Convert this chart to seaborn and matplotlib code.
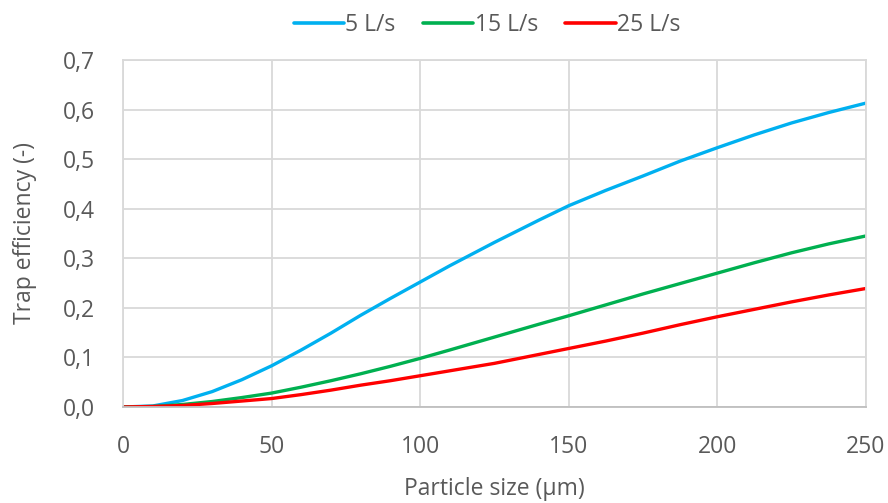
import matplotlib
matplotlib.use("Agg")
import matplotlib.pyplot as plt
from matplotlib.ticker import FuncFormatter, MultipleLocator
import pandas as pd
import seaborn as sns

# Particle size (µm) and trap efficiency for three flow rates
particle_size = [0, 10, 20, 30, 40, 50, 60, 70, 80, 90, 100, 110, 125, 140, 150,
                 162.5, 175, 187.5, 200, 212.5, 225, 237.5, 250]
eff_5 = [0, 0.002, 0.013, 0.031, 0.055, 0.083, 0.115, 0.149, 0.185, 0.219, 0.252,
         0.285, 0.332, 0.377, 0.406, 0.437, 0.466, 0.496, 0.523, 0.549, 0.573, 0.594, 0.613]
eff_15 = [0, 0.001, 0.005, 0.011, 0.019, 0.028, 0.040, 0.053, 0.067, 0.082, 0.098,
          0.115, 0.141, 0.167, 0.184, 0.206, 0.228, 0.249, 0.270, 0.291, 0.311, 0.329, 0.345]
eff_25 = [0, 0.001, 0.003, 0.007, 0.012, 0.017, 0.025, 0.034, 0.044, 0.053, 0.063,
          0.073, 0.088, 0.106, 0.118, 0.133, 0.149, 0.166, 0.182, 0.197, 0.212, 0.226, 0.239]
series_names = ["5 L/s", "15 L/s", "25 L/s"]
series_colors = ["#00b0f0", "#00b050", "#ff0000"]

frames = []
for name, vals in zip(series_names, [eff_5, eff_15, eff_25]):
    frames.append(pd.DataFrame({"size": particle_size, "eff": vals, "flow": name}))
df = pd.concat(frames, ignore_index=True)

sns.set_theme(style="white")
plt.rcParams["font.family"] = ["Open Sans", "DejaVu Sans"]

text_color = "#595959"
grid_color = "#d9d9d9"
fs = 16.5

fig = plt.figure(figsize=(8.88, 5.03), dpi=100)
ax = fig.add_axes([0.1385, 0.1909, 0.8365, 0.6898])

sns.lineplot(data=df, x="size", y="eff", hue="flow", hue_order=series_names,
             palette=series_colors, linewidth=2.4, ax=ax, legend=True)

ax.set_xlim(0, 250)
ax.set_ylim(0, 0.7)
ax.xaxis.set_major_locator(MultipleLocator(50))
ax.yaxis.set_major_locator(MultipleLocator(0.1))
ax.yaxis.set_major_formatter(FuncFormatter(lambda v, p: f"{v:.1f}".replace(".", ",")))
ax.xaxis.set_major_formatter(FuncFormatter(lambda v, p: f"{v:.0f}"))

ax.grid(True, color=grid_color, linewidth=1.3)
ax.set_axisbelow(True)
for side in ["top", "right", "left"]:
    ax.spines[side].set_color(grid_color)
    ax.spines[side].set_linewidth(1.3)
ax.spines["bottom"].set_color("#bfbfbf")
ax.spines["bottom"].set_linewidth(1.3)

ax.tick_params(axis="both", length=0, labelsize=fs, colors=text_color, pad=20)
ax.set_xlabel("Particle size (µm)", fontsize=fs, color=text_color, va="center")
ax.set_ylabel("Trap efficiency (-)", fontsize=fs, color=text_color, va="center")
ax.xaxis.set_label_coords(0.5, -0.236)
ax.yaxis.set_label_coords(-0.132, 0.5)

handles, labels = ax.get_legend_handles_labels()
ax.legend_.remove()
for h in handles:
    h.set_linewidth(2.6)
fig.legend(handles, labels, loc="center", bbox_to_anchor=(487 / 888, 1 - 25 / 503),
           ncol=3, frameon=False, fontsize=fs, labelcolor=text_color,
           handlelength=2.2, handletextpad=0.05, columnspacing=1.2)

fig.savefig("out.png", dpi=100)
